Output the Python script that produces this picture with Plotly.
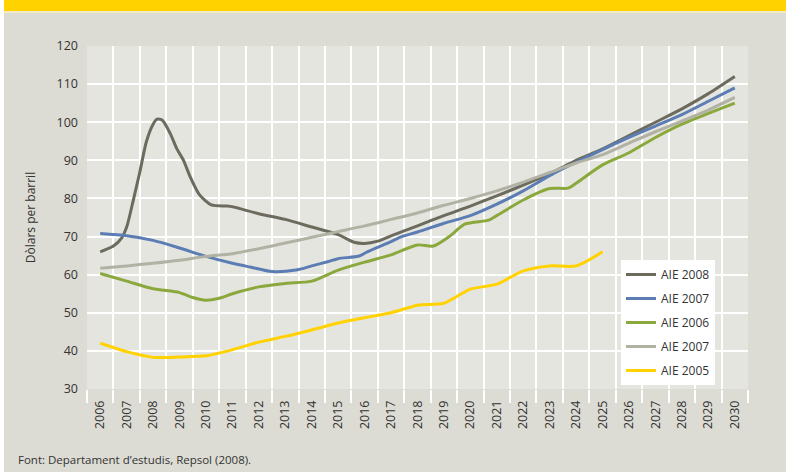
import plotly.graph_objects as go

# ---------------- data ----------------
years = list(range(2006, 2031))
tick_labels = [str(y) for y in years]

aie2008_x = [2006.0, 2006.5, 2006.8, 2007.0, 2007.25, 2007.5, 2007.75, 2008.0, 2008.15, 2008.35,
             2008.65, 2008.9, 2009.15, 2009.4, 2009.75, 2010.2, 2010.8, 2011, 2012, 2013,
             2014, 2015, 2015.6, 2016, 2016.5, 2017, 2018, 2019, 2020, 2021,
             2022, 2023, 2024, 2025, 2026, 2027, 2028, 2029, 2030]
aie2008_y = [66.0, 67.5, 69.5, 72.5, 79.5, 87.0, 95.0, 99.5, 100.8, 100.5,
             97.0, 93.0, 90.0, 85.7, 81.0, 78.3, 78.0, 77.8, 76.0, 74.5,
             72.5, 70.5, 68.5, 68.2, 68.8, 70.2, 72.8, 75.5, 78.0, 80.7,
             83.5, 86.5, 90.0, 93.0, 96.5, 100.0, 103.5, 107.5, 112.0]

aie2007_x = [2006, 2007, 2008, 2009, 2010, 2011, 2011.67, 2012.5, 2013.4, 2014,
             2014.6, 2015, 2015.8, 2016.1, 2017, 2017.4, 2018, 2019, 2020, 2021,
             2022, 2023, 2024, 2025, 2026, 2027, 2028, 2029, 2030]
aie2007_y = [70.8, 70.2, 69.0, 67.0, 64.8, 63.0, 62.0, 60.8, 61.2, 62.3,
             63.4, 64.2, 64.9, 66.0, 68.7, 70.0, 71.2, 73.5, 75.5, 78.5,
             82.0, 86.0, 89.5, 92.8, 96.0, 99.0, 102.0, 105.5, 109.0]

aie2006_x = [2006, 2007, 2008, 2009, 2009.5, 2010, 2010.5, 2011, 2012, 2013,
             2014, 2015, 2016, 2017, 2018, 2018.6, 2019.2, 2019.8, 2020.7, 2021,
             2022, 2023, 2023.7, 2024, 2025, 2026, 2027, 2028, 2029, 2030]
aie2006_y = [60.3, 58.3, 56.3, 55.3, 54.0, 53.3, 53.8, 55.0, 56.8, 57.7,
             58.3, 61.2, 63.3, 65.2, 67.8, 67.5, 70.0, 73.3, 74.3, 75.5,
             79.6, 82.6, 82.7, 84.0, 88.8, 92.0, 96.0, 99.5, 102.3, 105.0]

aie2007b_x = years
aie2007b_y = [61.7, 62.3, 63.0, 63.8, 64.8, 65.5, 66.8, 68.3, 69.8, 71.3,
              72.8, 74.5, 76.2, 78.2, 80.0, 82.0, 84.3, 86.8, 89.3, 91.5,
              94.5, 97.5, 100.3, 103.2, 106.5]

aie2005_x = list(range(2006, 2026))
aie2005_y = [42.0, 39.8, 38.3, 38.4, 38.7, 40.3, 42.3, 43.8, 45.5, 47.3,
             48.7, 50.0, 52.0, 52.5, 56.2, 57.5, 61.0, 62.3, 62.3, 66.0]

series = [
    ("AIE 2008", aie2008_x, aie2008_y, "#6c6b5e"),
    ("AIE 2007", aie2007_x, aie2007_y, "#5b7db4"),
    ("AIE 2006", aie2006_x, aie2006_y, "#8ba83c"),
    ("AIE 2007", aie2007b_x, aie2007b_y, "#b2b2a4"),
    ("AIE 2005", aie2005_x, aie2005_y, "#ffd200"),
]

y_title = "Dòlars per barril"
footnote = "Font: Departament d\u2019estudis, Repsol (2008)."

# ---------------- figure ----------------
W, H = 786, 472
ML, MR, MT, MB = 87, 38, 46, 83
PW, PH = W - ML - MR, H - MT - MB

def xp(px):
    return (px - ML) / PW

def yp(py):
    return (H - MB - py) / PH

FONT = "Open Sans"
TXT = "#333333"

fig = go.Figure()
for i, (name, xs, ys, col) in enumerate(series):
    fig.add_trace(go.Scatter(
        x=xs, y=ys, name=name, mode="lines",
        line=dict(color=col, width=3, shape="spline", smoothing=0.7),
        legendgroup=f"g{i}",
    ))

shapes = [
    dict(type="rect", xref="paper", yref="paper", x0=xp(0), x1=xp(4), y0=yp(H), y1=yp(0),
         fillcolor="white", line=dict(width=0), layer="below"),
    dict(type="rect", xref="paper", yref="paper", x0=xp(4), x1=xp(W), y0=yp(11), y1=yp(0),
         fillcolor="#ffd200", line=dict(width=0), layer="below"),
    dict(type="rect", xref="paper", yref="paper", x0=xp(4), x1=xp(W), y0=yp(13), y1=yp(11),
         fillcolor="#f1ecc6", line=dict(width=0), layer="below"),
]

fig.update_layout(
    width=W, height=H,
    margin=dict(l=ML, r=MR, t=MT, b=MB, pad=0),
    paper_bgcolor="#dcdcd4",
    plot_bgcolor="#e5e5e0",
    font=dict(family=FONT, size=12, color=TXT),
    shapes=shapes,
    showlegend=True,
    legend=dict(
        x=xp(621), y=yp(260), xanchor="left", yanchor="top",
        bgcolor="white", borderwidth=0,
        font=dict(family=FONT, size=12, color=TXT),
        tracegroupgap=5, itemwidth=30,
    ),
    annotations=[
        dict(text=footnote, xref="paper", yref="paper", x=xp(16), y=yp(460),
             xanchor="left", yanchor="middle", showarrow=False,
             font=dict(family=FONT, size=11.5, color=TXT)),
    ],
)

fig.update_xaxes(
    range=[2005.5, 2030.5],
    tickmode="array", tickvals=years, ticktext=tick_labels,
    tickangle=-90, ticks="", showgrid=False, zeroline=False, showline=False,
    ticklabelstandoff=8,
    tickfont=dict(family=FONT, size=12.5, color=TXT),
    minor=dict(tickmode="array", tickvals=[y - 0.5 for y in years] + [2030.5],
               showgrid=True, gridcolor="white", gridwidth=1.5,
               ticks="outside", ticklen=13, tickcolor="white", tickwidth=1.5),
)

fig.update_yaxes(
    range=[30, 120], dtick=10, tick0=30,
    showgrid=True, gridcolor="white", gridwidth=1.5,
    zeroline=False, showline=False, ticks="",
    ticklabelstandoff=8,
    tickfont=dict(family=FONT, size=12.5, color=TXT),
    title=dict(text=y_title, font=dict(family=FONT, size=12, color=TXT), standoff=18),
)

fig.write_html("out.html", post_script="document.body.style.margin='0px';",
               config={"displayModeBar": False})
